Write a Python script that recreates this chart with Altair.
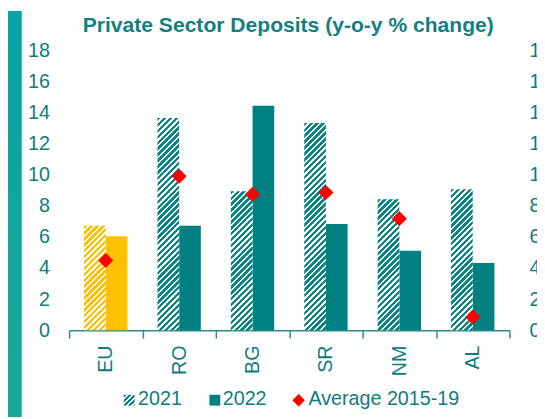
import altair as alt
import pandas as pd

# ---- data ----
categories = ["EU", "RO", "BG", "SR", "NM", "AL"]
series = ["2021", "2022"]
v2021 = [6.72, 13.66, 8.94, 13.34, 8.43, 9.07]
v2022 = [6.04, 6.72, 14.45, 6.84, 5.11, 4.32]
avg_2015_19 = [4.49, 9.91, 8.75, 8.86, 7.18, 0.85]
legend_labels = ["2021", "2022", "Average 2015-19"]
y_ticks = [0, 2, 4, 6, 8, 10, 12, 14, 16, 18]
title_text = "Private Sector Deposits (y-o-y % change)"

# ---- styling ----
TEAL = "#008080"
HATCH_TEAL = "#0b8484"
YELLOW = "#FFC000"
RED = "#FF0000"
TXT = "#0e7c7b"
FONT = "Liberation Sans"

W, H = 447, 284
Y_MAX = 18
BAR_W = 22.0
PX_PER_UNIT = H / Y_MAX

bars = pd.DataFrame(
    [{"cat": c, "series": "2021", "value": v} for c, v in zip(categories, v2021)]
    + [{"cat": c, "series": "2022", "value": v} for c, v in zip(categories, v2022)]
)
avg_df = pd.DataFrame({"cat": categories, "avg": avg_2015_19})
one = pd.DataFrame({"k": [0]})


def hatch(color, w, h, period=6.0, frac=0.58):
    """Diagonal '/' stripes as a linear gradient in bounding-box units."""
    total = w + h
    n = total / period
    k = (w + h) / (w * w + h * h)
    stops = []
    i = 0
    while i < n:
        a = i / n
        b = min((i + frac) / n, 1.0)
        c = min((i + 1) / n, 1.0)
        stops += [
            {"offset": a, "color": color},
            {"offset": b, "color": color},
            {"offset": b, "color": "#ffffff"},
            {"offset": c, "color": "#ffffff"},
        ]
        i += 1
    return {"gradient": "linear", "x1": 0, "y1": 0, "x2": k * w, "y2": k * h, "stops": stops}


x_enc = alt.X(
    "cat:N",
    scale=alt.Scale(domain=categories, paddingInner=0, paddingOuter=0),
    axis=alt.Axis(
        title=None, labelAngle=-90, labelAlign="right", labelBaseline="middle",
        labelFontSize=20, labelColor=TXT, labelFont=FONT, labelPadding=7,
        tickBand="extent", tickSize=8, tickColor="#2b8c8c", tickWidth=1.5,
        domainColor="#2b8c8c", domainWidth=1.5, grid=False,
    ),
)
xoff_enc = alt.XOffset("series:N", scale=alt.Scale(domain=series, paddingInner=0, paddingOuter=0.693))
y_scale = alt.Scale(domain=[0, Y_MAX], nice=False, zero=True)

left_axis = alt.Axis(
    title=None, values=y_ticks, domain=False, ticks=False, grid=False,
    labelFontSize=20, labelColor=TXT, labelFont=FONT, labelPadding=20,
)
right_axis = alt.Axis(
    title=None, values=y_ticks, domain=False, ticks=False, grid=False, orient="right",
    labelFontSize=20, labelColor=TXT, labelFont=FONT, labelPadding=20,
)

# left teal strip of the slide frame
strip = alt.Chart(one).mark_rect(
    fill={"gradient": "linear", "x1": 0, "y1": 0, "x2": 0, "y2": 1,
          "stops": [{"offset": 0, "color": "#07a2a5"}, {"offset": 1, "color": "#1aa997"}]}
).encode(x=alt.value(-62), x2=alt.value(-48), y=alt.value(-40), y2=alt.value(372))

title = alt.Chart(one).mark_text(
    text=title_text, align="center", baseline="alphabetic", fontSize=21.4,
    fontWeight="bold", font=FONT, color="#13807f",
).encode(x=alt.value(W / 2 - 1), y=alt.value(-18.5))

solid = alt.Chart(bars).transform_filter(alt.datum.series == "2022").mark_bar().encode(
    x=x_enc, xOffset=xoff_enc,
    y=alt.Y("value:Q", scale=y_scale, axis=left_axis),
    color=alt.condition(alt.datum.cat == "EU", alt.value(YELLOW), alt.value(TEAL)),
)

hatched_layers = []
for c, v in zip(categories, v2021):
    col = "#FFC000" if c == "EU" else HATCH_TEAL
    hatched_layers.append(
        alt.Chart(bars)
        .transform_filter((alt.datum.series == "2021") & (alt.datum.cat == c))
        .mark_bar(fill=hatch(col, BAR_W, v * PX_PER_UNIT))
        .encode(x=x_enc, xOffset=xoff_enc, y=alt.Y("value:Q", scale=y_scale, axis=None))
    )

diamonds = alt.Chart(avg_df).mark_point(
    shape="diamond", filled=True, color=RED, size=235, opacity=1
).encode(x=x_enc, y=alt.Y("avg:Q", scale=y_scale, axis=right_axis))

# manual legend
LY = 355
leg_hatch = alt.Chart(one).mark_square(
    size=121, fill=hatch(HATCH_TEAL, 11, 11, period=5.0), opacity=1
).encode(x=alt.value(61), y=alt.value(LY))
leg_solid = alt.Chart(one).mark_square(size=121, fill=TEAL, opacity=1).encode(
    x=alt.value(148), y=alt.value(LY))
leg_dia = alt.Chart(one).mark_point(shape="diamond", filled=True, color=RED, size=160, opacity=1).encode(
    x=alt.value(233), y=alt.value(LY))


def leg_text(t, x):
    return alt.Chart(one).mark_text(
        text=t, align="left", baseline="middle", fontSize=20, font=FONT, color=TXT
    ).encode(x=alt.value(x), y=alt.value(LY - 1))


chart = (
    alt.layer(
        strip, title, solid, *hatched_layers, diamonds,
        leg_hatch, leg_solid, leg_dia,
        leg_text(legend_labels[0], 70), leg_text(legend_labels[1], 156), leg_text(legend_labels[2], 243),
    )
    .resolve_axis(y="independent")
    .properties(
        width=W, height=H,
        autosize=alt.AutoSizeParams(type="none"),
        padding={"left": 62, "top": 40, "right": 28, "bottom": 87},
        background="white",
    )
    .configure_view(stroke=None)
)

chart.save("out.html", embed_options={"renderer": "svg", "actions": False})
